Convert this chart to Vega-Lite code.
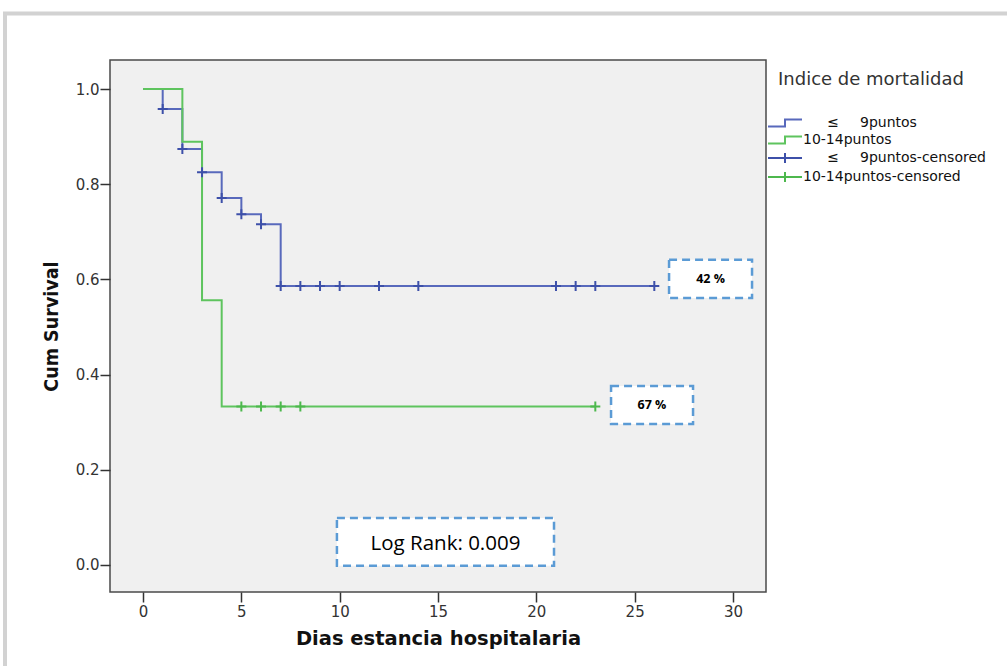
{
  "$schema": "https://vega.github.io/schema/vega-lite/v6.json",
  "width": 656,
  "height": 532,
  "autosize": {"type": "none"},
  "padding": {"left": 110, "top": 60, "right": 241, "bottom": 74},
  "background": "#ffffff",
  "config": {
    "view": {"fill": "#f0f0f0", "stroke": "#4a4a4a", "strokeWidth": 1.5},
    "axis": {
      "labelFont": "DejaVu Sans, sans-serif",
      "titleFont": "DejaVu Sans Condensed, sans-serif",
      "labelFontSize": 15,
      "labelColor": "#333333",
      "titleColor": "#111111",
      "titleFontWeight": "bold",
      "grid": false,
      "domain": false,
      "tickColor": "#333333",
      "tickSize": 10,
      "tickWidth": 1.5
    }
  },
  "datasets": {
    "curves": [
      {"serie": "≤ 9puntos", "dias": 0, "supervivencia": 1.0},
      {"serie": "≤ 9puntos", "dias": 1, "supervivencia": 0.958},
      {"serie": "≤ 9puntos", "dias": 2, "supervivencia": 0.874},
      {"serie": "≤ 9puntos", "dias": 3, "supervivencia": 0.825},
      {"serie": "≤ 9puntos", "dias": 4, "supervivencia": 0.771},
      {"serie": "≤ 9puntos", "dias": 5, "supervivencia": 0.737},
      {"serie": "≤ 9puntos", "dias": 6, "supervivencia": 0.716},
      {"serie": "≤ 9puntos", "dias": 7, "supervivencia": 0.586},
      {"serie": "≤ 9puntos", "dias": 26, "supervivencia": 0.586},
      {"serie": "10-14puntos", "dias": 0, "supervivencia": 1.0},
      {"serie": "10-14puntos", "dias": 2, "supervivencia": 0.889},
      {"serie": "10-14puntos", "dias": 3, "supervivencia": 0.556},
      {"serie": "10-14puntos", "dias": 4, "supervivencia": 0.333},
      {"serie": "10-14puntos", "dias": 23, "supervivencia": 0.333}
    ],
    "censored": [
      {"serie": "≤ 9puntos-censored", "dias": 1, "supervivencia": 0.958},
      {"serie": "≤ 9puntos-censored", "dias": 2, "supervivencia": 0.874},
      {"serie": "≤ 9puntos-censored", "dias": 3, "supervivencia": 0.825},
      {"serie": "≤ 9puntos-censored", "dias": 4, "supervivencia": 0.771},
      {"serie": "≤ 9puntos-censored", "dias": 5, "supervivencia": 0.737},
      {"serie": "≤ 9puntos-censored", "dias": 6, "supervivencia": 0.716},
      {"serie": "≤ 9puntos-censored", "dias": 7, "supervivencia": 0.586},
      {"serie": "≤ 9puntos-censored", "dias": 8, "supervivencia": 0.586},
      {"serie": "≤ 9puntos-censored", "dias": 9, "supervivencia": 0.586},
      {"serie": "≤ 9puntos-censored", "dias": 10, "supervivencia": 0.586},
      {"serie": "≤ 9puntos-censored", "dias": 12, "supervivencia": 0.586},
      {"serie": "≤ 9puntos-censored", "dias": 14, "supervivencia": 0.586},
      {"serie": "≤ 9puntos-censored", "dias": 21, "supervivencia": 0.586},
      {"serie": "≤ 9puntos-censored", "dias": 22, "supervivencia": 0.586},
      {"serie": "≤ 9puntos-censored", "dias": 23, "supervivencia": 0.586},
      {"serie": "≤ 9puntos-censored", "dias": 26, "supervivencia": 0.586},
      {"serie": "10-14puntos-censored", "dias": 5, "supervivencia": 0.333},
      {"serie": "10-14puntos-censored", "dias": 6, "supervivencia": 0.333},
      {"serie": "10-14puntos-censored", "dias": 7, "supervivencia": 0.333},
      {"serie": "10-14puntos-censored", "dias": 8, "supervivencia": 0.333},
      {"serie": "10-14puntos-censored", "dias": 23, "supervivencia": 0.333}
    ],
    "boxes": [
      {"texto": "42 %", "x0": 26.75, "x1": 30.97, "y0": 0.641, "y1": 0.561, "xc": 28.86, "yc": 0.601, "tipo": "pct"},
      {"texto": "67 %", "x0": 23.8, "x1": 27.97, "y0": 0.376, "y1": 0.296, "xc": 25.88, "yc": 0.336, "tipo": "pct"},
      {"texto": "Log Rank: 0.009", "x0": 9.86, "x1": 20.9, "y0": 0.0987, "y1": -0.002, "xc": 15.38, "yc": 0.044, "tipo": "log"}
    ],
    "frame": [
      {"x0": -7.02, "x1": 45, "y0": 1.1586, "y1": -1}
    ]
  },
  "layer": [
    {
      "data": {"name": "frame"},
      "mark": {"type": "rect", "clip": false, "fill": null, "fillOpacity": 0, "stroke": "#d2d2d2", "strokeWidth": 4},
      "encoding": {
        "x": {"field": "x0", "type": "quantitative", "scale": {"domain": [-1.68, 31.68], "nice": false, "zero": false}},
        "x2": {"field": "x1"},
        "y": {"field": "y0", "type": "quantitative", "scale": {"domain": [-0.057, 1.061], "nice": false, "zero": false}},
        "y2": {"field": "y1"}
      }
    },
    {
      "data": {"name": "curves"},
      "transform": [{"filter": "datum.serie == '≤ 9puntos'"}],
      "mark": {"type": "line", "interpolate": "step-after", "strokeWidth": 2},
      "encoding": {
        "x": {"field": "dias", "type": "quantitative", "title": "Dias estancia hospitalaria",
              "scale": {"domain": [-1.68, 31.68], "nice": false, "zero": false},
              "axis": {"values": [0, 5, 10, 15, 20, 25, 30], "labelPadding": 2, "titleFont": "DejaVu Sans, sans-serif", "titleFontSize": 19.5, "titlePadding": 10}},
        "y": {"field": "supervivencia", "type": "quantitative", "title": "Cum Survival",
              "scale": {"domain": [-0.057, 1.061], "nice": false, "zero": false},
              "axis": {"values": [0, 0.2, 0.4, 0.6, 0.8, 1.0], "format": ".1f", "labelPadding": 1, "titleFontSize": 19.5, "titlePadding": 14}},
        "color": {"field": "serie", "type": "nominal"}
      }
    },
    {
      "data": {"name": "curves"},
      "transform": [{"filter": "datum.serie == '10-14puntos'"}],
      "mark": {"type": "line", "interpolate": "step-after", "strokeWidth": 2},
      "encoding": {
        "x": {"field": "dias", "type": "quantitative"},
        "y": {"field": "supervivencia", "type": "quantitative"},
        "color": {"field": "serie", "type": "nominal"}
      }
    },
    {
      "data": {"name": "censored"},
      "mark": {"type": "point", "shape": "M-1,0H1M0,-1V1", "size": 100, "filled": false, "strokeWidth": 2, "opacity": 1},
      "encoding": {
        "x": {"field": "dias", "type": "quantitative"},
        "y": {"field": "supervivencia", "type": "quantitative"},
        "color": {"field": "serie", "type": "nominal"}
      }
    },
    {
      "data": {"name": "censored"},
      "mark": {"type": "point", "filled": false, "strokeWidth": 2, "opacity": 0},
      "encoding": {
        "x": {"field": "dias", "type": "quantitative"},
        "y": {"field": "supervivencia", "type": "quantitative"},
        "color": {
          "field": "serie", "type": "nominal",
          "scale": {
            "domain": ["≤ 9puntos", "10-14puntos", "≤ 9puntos-censored", "10-14puntos-censored"],
            "range": ["#5869bc", "#5ec45e", "#3d50a9", "#4db84d"]
          },
          "legend": {
            "title": "Indice de mortalidad",
            "orient": "none",
            "legendX": 668,
            "legendY": 11,
            "padding": 0,
            "titleFont": "DejaVu Sans, sans-serif",
            "titleFontSize": 18,
            "titleFontWeight": "normal",
            "titleColor": "#333333",
            "titlePadding": 27,
            "titleLimit": 300,
            "labelFont": "DejaVu Sans, sans-serif",
            "labelFontSize": 14,
            "labelColor": "#111111",
            "labelOffset": 11,
            "labelLimit": 300,
            "rowPadding": 1,
            "symbolSize": 100,
            "symbolStrokeWidth": 2,
            "symbolOpacity": 1,
            "symbolFillColor": "transparent",
            "labelExpr": "datum.value == '≤ 9puntos' ? '\u2800\u2003≤\u2003\u20029puntos' : datum.value == '≤ 9puntos-censored' ? '\u2800\u2003≤\u2003\u20029puntos-censored' : datum.value"
          }
        },
        "shape": {
          "field": "serie", "type": "nominal",
          "scale": {
            "domain": ["≤ 9puntos", "10-14puntos", "≤ 9puntos-censored", "10-14puntos-censored"],
            "range": ["M-3.4,0.7H0V-0.7H3.4", "M-3.4,0.7H0V-0.7H3.4", "M-3.4,0H3.4M0,-1V1", "M-3.4,0H3.4M0,-1V1"]
          },
          "legend": {"title": "Indice de mortalidad"}
        }
      }
    },
    {
      "data": {"name": "boxes"},
      "mark": {"type": "rect", "fill": "#ffffff", "stroke": "#5b9bd5", "strokeWidth": 2.5, "strokeDash": [8, 5], "clip": false},
      "encoding": {
        "x": {"field": "x0", "type": "quantitative"},
        "x2": {"field": "x1"},
        "y": {"field": "y0", "type": "quantitative"},
        "y2": {"field": "y1"}
      }
    },
    {
      "data": {"name": "boxes"},
      "transform": [{"filter": "datum.tipo == 'pct'"}],
      "mark": {"type": "text", "font": "Open Sans, Lato, sans-serif", "fontSize": 12.5, "fontWeight": "bold", "color": "#000000", "align": "center", "baseline": "middle"},
      "encoding": {
        "x": {"field": "xc", "type": "quantitative"},
        "y": {"field": "yc", "type": "quantitative"},
        "text": {"field": "texto"}
      }
    },
    {
      "data": {"name": "boxes"},
      "transform": [{"filter": "datum.tipo == 'log'"}],
      "mark": {"type": "text", "font": "Open Sans, Lato, sans-serif", "fontSize": 20.5, "color": "#000000", "align": "center", "baseline": "middle"},
      "encoding": {
        "x": {"field": "xc", "type": "quantitative"},
        "y": {"field": "yc", "type": "quantitative"},
        "text": {"field": "texto"}
      }
    }
  ]
}
